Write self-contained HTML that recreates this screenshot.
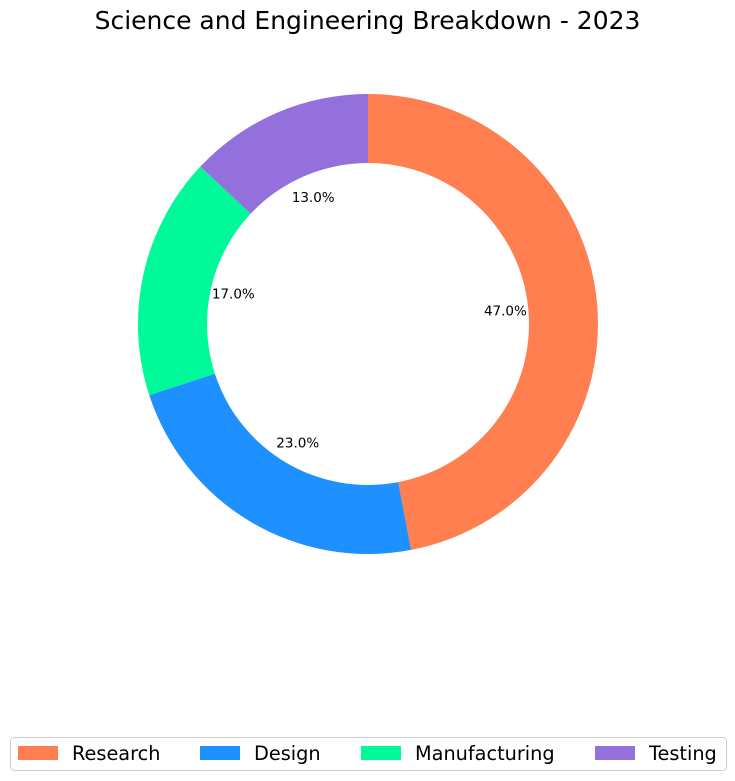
<!DOCTYPE html>
<html><head><meta charset="utf-8"><style>
body{margin:0;background:#fff;}
svg{display:block;font-family:"DejaVu Sans","Liberation Sans",sans-serif;}
</style></head><body>
<svg id="c" width="735" height="781" viewBox="0 0 735 781">
<text x="367.5" y="29" text-anchor="middle" font-size="25" fill="#000">Science and Engineering Breakdown - 2023</text>
<g id="slices"></g>
<g id="labels"></g>
<g id="legend">
<rect x="10.5" y="737.5" width="716" height="33" rx="4" fill="#fff" stroke="#ccc" stroke-width="1"/>
</g>
</svg>
<script>
const categories = ["Research","Design","Manufacturing","Testing"];
const values = [47,23,17,13];
const colors = ["#FF7F50","#1E90FF","#00FA9A","#9370DB"];
const legendX = [18,200,361,595];
const cx=368, cy=324, R=230, r=161;
const NS="http://www.w3.org/2000/svg";
const total = values.reduce((a,b)=>a+b,0);
const sl=document.getElementById('slices'), lb=document.getElementById('labels'), lg=document.getElementById('legend');
let a0=90;
function pt(rad,deg){const t=deg*Math.PI/180;return [cx+rad*Math.cos(t), cy-rad*Math.sin(t)];}
values.forEach((v,i)=>{
  const sweep=v/total*360, a1=a0-sweep;
  const [x1,y1]=pt(R,a0),[x2,y2]=pt(R,a1),[x3,y3]=pt(r,a1),[x4,y4]=pt(r,a0);
  const large=sweep>180?1:0;
  const p=document.createElementNS(NS,'path');
  p.setAttribute('d',`M${x1},${y1} A${R},${R} 0 ${large} 1 ${x2},${y2} L${x3},${y3} A${r},${r} 0 ${large} 0 ${x4},${y4} Z`);
  p.setAttribute('fill',colors[i]);
  
  
  sl.appendChild(p);
  const [tx,ty]=pt(R*0.6,(a0+a1)/2);
  const t=document.createElementNS(NS,'text');
  t.setAttribute('x',tx);t.setAttribute('y',ty+4.5);t.setAttribute('text-anchor','middle');t.setAttribute('font-size','13.5');
  t.textContent=(v/total*100).toFixed(1)+'%';
  
  
  lb.appendChild(t);
  const rc=document.createElementNS(NS,'rect');
  rc.setAttribute('x',legendX[i]);rc.setAttribute('y',746);rc.setAttribute('width',40);rc.setAttribute('height',14);rc.setAttribute('fill',colors[i]);
  
  
  lg.appendChild(rc);
  const lt=document.createElementNS(NS,'text');
  lt.setAttribute('x',legendX[i]+54);lt.setAttribute('y',760);lt.setAttribute('font-size','19.3');
  lt.textContent=categories[i];
  
  
  lg.appendChild(lt);
  a0=a1;
});
</script>
</body></html>
